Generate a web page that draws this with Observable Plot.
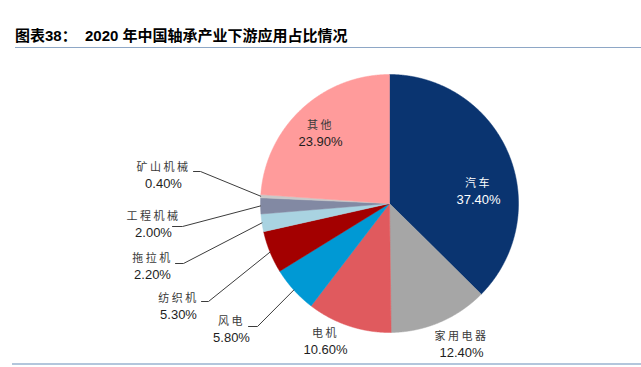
<!DOCTYPE html>
<html><head><meta charset="utf-8">
<script src="https://cdn.jsdelivr.net/npm/d3@7"></script>
<script src="https://cdn.jsdelivr.net/npm/@observablehq/plot@0.6"></script>
<style>
html,body{margin:0;padding:0;background:#fff;}
#wrap{position:relative;width:641px;height:367px;overflow:hidden;background:#fff;}
#title{position:absolute;left:15px;top:28px;font:bold 15px/15px "Liberation Sans","Noto Sans CJK SC",sans-serif;color:#000;white-space:pre;}
#topline{position:absolute;left:15px;right:0;top:47px;height:1px;background:#8ea7c6;}
#chart{position:absolute;left:0;top:50px;}
#botline{position:absolute;left:12px;right:0;top:363px;height:2px;background:#b3c6dc;}
</style></head><body>
<div id="wrap">
  <div id="title">图表38：  2020 年中国轴承产业下游应用占比情况</div>
  <div id="topline"></div>
  <div id="chart"></div>
  <div id="botline"></div>
</div>
<script>
// ---- data ----
const categories = ["汽车", "家用电器", "电机", "风电", "纺织机", "拖拉机", "工程机械", "矿山机械", "其他"];
const shares = [37.4, 12.4, 10.6, 5.8, 5.3, 2.2, 2.0, 0.4, 23.9];

// ---- style ----
const palette = ["#0a3470", "#a6a6a6", "#e05a5e", "#0099d4", "#a30000", "#a9d3e1", "#8289a3", "#c9c9c9", "#ff9b9b"];

// ---- layout (px relative to pie centre, y downward) ----
const R = 129;
const labelLayout = {
  "汽车":   {x: 89,   y: -20, light: true},
  "家用电器": {x: 72,   y: 133},
  "电机":   {x: -64,  y: 130},
  "风电":   {x: -158, y: 118},
  "纺织机":  {x: -211, y: 95},
  "拖拉机":  {x: -237, y: 55},
  "工程机械": {x: -236, y: 13},
  "矿山机械": {x: -226, y: -36},
  "其他":   {x: -69,  y: -78}
};
const leaderLayout = {
  "风电":   [[-141, 123], [-132, 123]],
  "纺织机":  [[-188, 98], [-181, 98]],
  "拖拉机":  [[-214, 60], [-206, 60]],
  "工程机械": [[-217, 23], [-207, 23]],
  "矿山机械": [[-196, -32], [-189, -32]]
};

// ---- build geometry from data ----
const total = d3.sum(shares);
let acc = 0;
const slices = categories.map((c, i) => {
  const a0 = acc / total * 2 * Math.PI;
  acc += shares[i];
  const a1 = acc / total * 2 * Math.PI;
  return {cat: c, value: shares[i], a0, a1, mid: (a0 + a1) / 2};
});

const piePts = [];
for (const s of slices) {
  piePts.push({cat: s.cat, x: 0, y: 0});
  const n = Math.max(4, Math.ceil((s.a1 - s.a0) / (Math.PI / 720)));
  for (let k = 0; k <= n; k++) {
    const a = s.a0 + (s.a1 - s.a0) * k / n;
    piePts.push({cat: s.cat, x: R * Math.sin(a), y: -R * Math.cos(a)});
  }
  piePts.push({cat: s.cat, x: 0, y: 0});
}

const leaderPts = [];
for (const s of slices) {
  const L = leaderLayout[s.cat];
  if (!L) continue;
  L.forEach(p => leaderPts.push({cat: s.cat, x: p[0], y: p[1]}));
  leaderPts.push({cat: s.cat, x: R * Math.sin(s.mid), y: -R * Math.cos(s.mid)});
}

const labels = slices.map(s => ({
  cat: s.cat,
  pct: s.value.toFixed(2) + "%",
  lx: labelLayout[s.cat].x,
  ly: labelLayout[s.cat].y,
  light: !!labelLayout[s.cat].light
}));

const cjk = '"Noto Sans CJK SC", sans-serif';
const latin = '"Liberation Sans", Arial, sans-serif';

const W = 641, H = 312, cx = 389, cy = 153;
const chart = Plot.plot({
  width: W, height: H,
  margin: 0,
  x: {type: "linear", domain: [-cx, W - cx], range: [0, W], axis: null},
  y: {type: "linear", domain: [-cy, H - cy], range: [0, H], axis: null},
  color: {domain: categories, range: palette},
  style: {background: "transparent", overflow: "visible"},
  marks: [
    Plot.line(piePts, {x: "x", y: "y", z: "cat", fill: "cat", stroke: "cat", strokeWidth: 0.5, curve: "linear"}),
    Plot.line(leaderPts, {x: "x", y: "y", z: "cat", stroke: "#3c3c3c", strokeWidth: 1, curve: "linear"}),
    Plot.text(labels.filter(d => !d.light), {x: "lx", y: "ly", text: "cat", fontSize: 11, fill: "#3a3a3a", fontFamily: cjk}),
    Plot.text(labels.filter(d => d.light), {x: "lx", y: "ly", text: "cat", fontSize: 11, fill: "#ffffff", fontFamily: cjk}),
    Plot.text(labels.filter(d => !d.light), {x: "lx", y: "ly", dy: 16, text: "pct", fontSize: 13, fill: "#1e1e1e", fontFamily: latin}),
    Plot.text(labels.filter(d => d.light), {x: "lx", y: "ly", dy: 16, text: "pct", fontSize: 13, fill: "#ffffff", fontFamily: latin})
  ]
});
chart.querySelectorAll("text").forEach(t => {
  if (/[\u4e00-\u9fff]/.test(t.textContent)) t.setAttribute("letter-spacing", "2.5");
});
document.getElementById("chart").appendChild(chart);
</script>
</body></html>
